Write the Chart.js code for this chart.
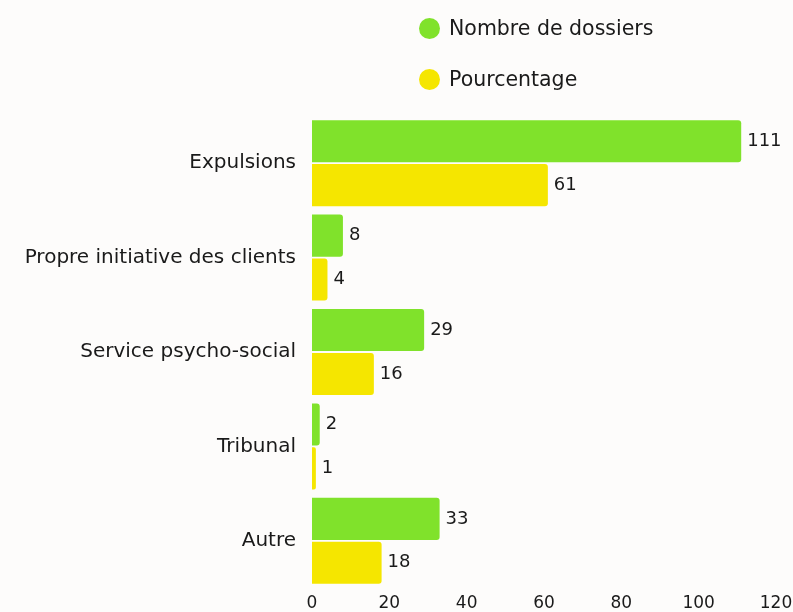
<!DOCTYPE html>
<html>
<head>
<meta charset="utf-8">
<script src="https://cdn.jsdelivr.net/npm/chart.js@4/dist/chart.umd.min.js"></script>
<style>
  html, body { margin: 0; padding: 0; background: #fdfcfb; }
  #wrap { position: relative; width: 793px; height: 612px; }
  #legend { position: absolute; left: 419px; top: 0; font-family: "DejaVu Sans", sans-serif; font-size: 20.5px; color: #1a1a1a; }
  .item { position: absolute; left: 0; white-space: nowrap; display: flex; align-items: center; height: 24px; }
  .dot { width: 21px; height: 21px; border-radius: 50%; margin-right: 9px; flex: none; }
</style>
</head>
<body>
<div id="wrap">
  <canvas id="c" width="793" height="612"></canvas>
  <div id="legend"></div>
</div>
<script>
const categories = ["Expulsions", "Propre initiative des clients", "Service psycho-social", "Tribunal", "Autre"];
const seriesNames = ["Nombre de dossiers", "Pourcentage"];
const dossiers = [111, 8, 29, 2, 33];
const pourcentage = [61, 4, 16, 1, 18];
const xTicks = [0, 20, 40, 60, 80, 100, 120];
const colors = ["#80e22b", "#f5e600"];
const FONT = "DejaVu Sans";

const valueLabels = {
  id: "valueLabels",
  afterDatasetsDraw(chart) {
    const ctx = chart.ctx;
    ctx.save();
    ctx.font = "18px '" + FONT + "'";
    ctx.fillStyle = "#1a1a1a";
    ctx.textBaseline = "middle";
    ctx.textAlign = "left";
    chart.data.datasets.forEach((ds, i) => {
      const meta = chart.getDatasetMeta(i);
      meta.data.forEach((bar, j) => {
        ctx.fillText(String(ds.data[j]), bar.x + 6, bar.y);
      });
    });
    ctx.restore();
  }
};

const chart = new Chart(document.getElementById("c"), {
  type: "bar",
  data: {
    labels: categories,
    datasets: [
      { label: seriesNames[0], data: dossiers, backgroundColor: colors[0], borderRadius: 3, borderSkipped: "start" },
      { label: seriesNames[1], data: pourcentage, backgroundColor: colors[1], borderRadius: 3, borderSkipped: "start" }
    ]
  },
  options: {
    indexAxis: "y",
    responsive: false,
    animation: false,
    devicePixelRatio: 1,
    layout: { padding: { top: 116, left: 10, right: 0, bottom: 0 } },
    datasets: { bar: { categoryPercentage: 0.93, barPercentage: 0.96 } },
    plugins: { legend: { display: false }, tooltip: { enabled: false } },
    scales: {
      x: {
        min: 0, max: 120,
        afterBuildTicks(scale) { scale.ticks = xTicks.map(v => ({ value: v })); },
        afterFit(scale) { scale.height = 24; scale.paddingRight = 17; scale.paddingLeft = 0; },
        grid: { display: false, drawTicks: false },
        border: { display: false },
        ticks: { color: "#1a1a1a", font: { family: FONT, size: 17 }, padding: 5 }
      },
      y: {
        grid: { display: false, drawTicks: false },
        border: { display: false },
        afterFit(scale) { scale.width = 302; scale.paddingTop = 0; scale.paddingBottom = 0; },
        ticks: { color: "#1a1a1a", font: { family: FONT, size: 20 }, padding: 16 }
      }
    }
  },
  plugins: [valueLabels]
});

const legend = document.getElementById("legend");
chart.data.datasets.forEach((ds, i) => {
  const it = document.createElement("div");
  it.className = "item";
  it.style.top = (16 + i * 51) + "px";
  const d = document.createElement("span");
  d.className = "dot";
  d.style.background = ds.backgroundColor;
  const t = document.createElement("span");
  t.textContent = ds.label;
  it.appendChild(d); it.appendChild(t);
  legend.appendChild(it);
});
</script>
</body>
</html>
